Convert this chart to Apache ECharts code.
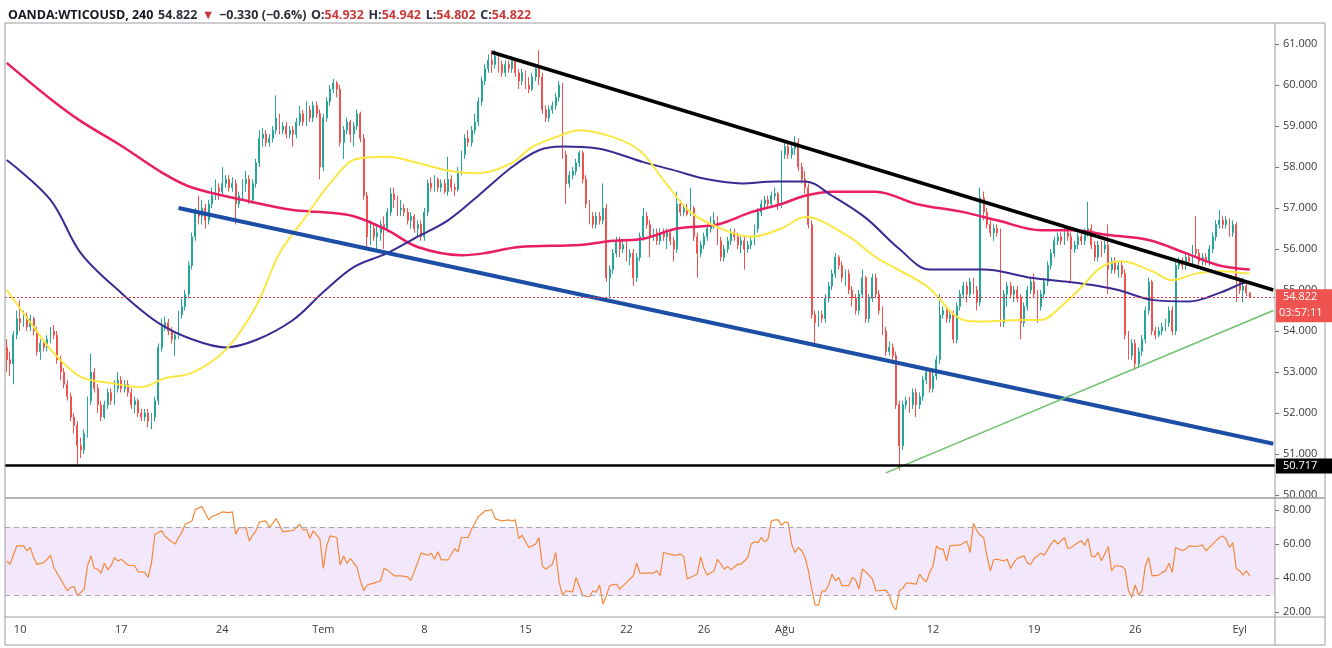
<!DOCTYPE html>
<html><head><meta charset="utf-8">
<script src="https://cdn.jsdelivr.net/npm/echarts@6/dist/echarts.min.js"></script>
<style>html,body{margin:0;padding:0;background:#fff}#c{width:1332px;height:648px}</style>
</head><body><div id="c"></div><script>
// ---------- DATA ----------
const NSLOT = 377; // bar slots incl. right margin
const xTickIdx = [4,34,64,94,124,154,184,207,231,275,305,335,366];
const xTickTxt = ['10','17','24','Tem','8','15','22','26','Ağu','12','19','26','Eyl'];
const priceTicks = [50,51,52,53,54,55,56,57,58,59,60,61];
const rsiTicks = [20,40,60,80];
const lastPrice = 54.822;
const supportLevel = 50.717;
const countdown = '03:57:11';
const trendBlack = [[144,60.8],[376,55.0]];
const trendBlue = [[51,57.0],[376,51.25]];
const trendGreen = [[261,50.54],[376,54.5]];
// candles: [open, close, low, high]
const w0 = [[53.6,53.3,53.0,53.8],[53.3,53.2,52.9,53.5],[53.2,53.9,52.7,54.0],[53.9,54.3,53.8,54.5],[54.3,54.2,54.0,54.75],[54.2,54.35,54.1,54.5],[54.35,54.1,54.0,54.45],[54.1,54.3,54.0,54.4],[54.3,54.0,53.9,54.35],[54.0,53.5,53.4,54.1],[53.5,53.7,53.3,53.8],[53.7,53.6,53.5,53.8],[53.6,53.8,53.5,53.9],[53.8,54.0,53.7,54.1],[54.0,53.9,53.8,54.15],[53.9,53.3,53.2,54.0],[53.3,53.0,52.8,53.4],[53.0,52.7,52.6,53.1],[52.7,52.4,52.3,52.8],[52.4,51.9,51.8,52.5],[51.9,51.7,51.5,52.0],[51.7,51.2,50.75,51.8],[51.2,51.1,50.9,51.4],[51.1,51.5,51.0,51.6],[51.5,52.3,51.4,52.4],[52.3,53.0,52.2,53.45],[53.0,52.6,52.5,53.1],[52.6,52.2,52.0,52.7],[52.2,51.9,51.8,52.3],[51.9,52.2,51.85,52.3]];
const w1 = [[52.2,52.5,52.1,52.6],[52.5,52.3,52.2,52.6],[52.3,52.6,52.2,52.8],[52.6,52.8,52.5,53.0],[52.8,52.6,52.5,52.9],[52.6,52.7,52.5,52.8],[52.7,52.5,52.4,52.8],[52.5,52.2,52.1,52.6],[52.2,52.3,52.0,52.4],[52.3,52.0,51.9,52.35],[52.0,51.9,51.8,52.1],[51.9,52.0,51.8,52.1],[52.0,51.8,51.65,52.1],[51.8,51.9,51.6,52.0],[51.9,52.3,51.8,52.4],[52.3,53.6,52.2,53.7],[53.6,54.1,53.5,54.3],[54.1,54.2,54.0,54.35],[54.2,54.0,53.9,54.3],[54.0,53.8,53.7,54.1],[53.8,53.9,53.4,54.0],[53.9,54.4,53.8,54.5],[54.4,54.6,54.3,54.8],[54.6,54.9,54.5,55.0],[54.9,55.6,54.8,55.7],[55.6,56.3,55.5,56.4],[56.3,56.9,56.2,57.0],[56.9,56.8,56.6,57.3],[56.8,57.0,56.6,57.2],[57.0,56.7,56.5,57.1]];
const w2 = [[56.7,57.1,56.6,57.2],[57.1,57.3,57.0,57.5],[57.3,57.5,57.2,57.7],[57.5,57.4,57.2,57.6],[57.4,57.6,57.3,58.0],[57.6,57.7,57.5,57.8],[57.7,57.5,57.4,57.8],[57.5,57.6,57.4,57.75],[57.6,57.1,56.6,57.7],[57.1,57.3,57.0,57.4],[57.3,57.6,57.2,57.7],[57.6,57.7,57.4,57.9],[57.7,57.2,57.1,57.8],[57.2,57.6,57.1,57.7],[57.6,58.1,57.5,58.2],[58.1,58.7,58.0,58.9],[58.7,58.8,58.5,58.95],[58.8,58.6,58.5,58.9],[58.6,58.7,58.5,58.8],[58.7,58.9,58.6,59.0],[58.9,59.2,58.8,59.75],[59.2,58.9,58.8,59.3],[58.9,59.0,58.8,59.1],[59.0,58.8,58.7,59.1],[58.8,58.9,58.7,59.0],[58.9,58.8,58.5,59.0],[58.8,59.1,58.7,59.2],[59.1,59.3,59.0,59.5],[59.3,59.1,59.0,59.4],[59.1,59.4,59.0,59.6]];
const w3 = [[59.4,59.2,59.1,59.5],[59.2,59.5,59.1,59.6],[59.5,59.3,59.2,59.6],[59.3,58.0,57.7,59.4],[58.0,59.2,57.9,59.3],[59.2,59.6,59.1,59.7],[59.6,59.9,59.5,60.0],[59.9,60.05,59.8,60.15],[60.05,59.9,59.7,60.1],[59.9,58.6,58.5,60.0],[58.6,58.9,58.2,59.0],[58.9,59.1,58.8,59.2],[59.1,58.8,58.6,59.15],[58.8,59.0,58.5,59.1],[59.0,59.3,58.9,59.4],[59.3,58.7,58.6,59.35],[58.7,57.3,57.2,58.8],[57.3,56.3,56.05,57.4],[56.3,56.5,56.1,56.7],[56.5,56.3,56.2,56.6],[56.3,56.4,56.0,56.6],[56.4,56.6,56.2,56.7],[56.6,56.5,56.0,56.8],[56.5,56.9,56.4,57.0],[56.9,57.35,56.8,57.5],[57.35,57.2,57.0,57.5],[57.2,56.95,56.8,57.3],[56.95,57.0,56.8,57.2],[57.0,56.9,56.8,57.1],[56.9,56.7,56.6,57.0]];
const w4 = [[56.7,56.8,56.5,56.9],[56.8,56.5,56.4,56.85],[56.5,56.6,56.3,56.7],[56.6,56.3,56.2,56.7],[56.3,56.9,56.2,57.0],[56.9,57.6,56.8,57.7],[57.6,57.5,57.4,57.75],[57.5,57.7,57.4,57.8],[57.7,57.5,57.4,57.75],[57.5,57.6,57.4,57.7],[57.6,57.4,57.35,57.7],[57.4,57.7,57.3,58.25],[57.7,57.5,57.4,57.8],[57.5,57.45,57.3,57.6],[57.45,57.9,57.4,58.0],[57.9,58.3,57.8,58.4],[58.3,58.7,58.2,58.8],[58.7,58.6,58.5,58.9],[58.6,58.9,58.5,59.0],[58.9,59.1,58.8,59.3],[59.1,59.6,59.0,59.7],[59.6,60.1,59.5,60.2],[60.1,60.4,60.0,60.5],[60.4,60.6,60.3,60.75],[60.6,60.5,60.3,60.85],[60.5,60.7,60.4,60.85],[60.7,60.5,60.3,60.8],[60.5,60.3,60.2,60.6],[60.3,60.5,60.2,60.6],[60.5,60.4,60.3,60.6]];
const w5 = [[60.4,60.6,60.3,60.7],[60.6,60.3,60.2,60.65],[60.3,60.1,59.9,60.4],[60.1,60.3,60.0,60.4],[60.3,60.0,59.9,60.35],[60.0,59.9,59.8,60.2],[59.9,60.2,59.85,60.3],[60.2,60.4,60.1,60.5],[60.4,60.2,60.0,60.85],[60.2,59.4,59.3,60.3],[59.4,59.2,59.1,59.5],[59.2,59.4,59.1,59.5],[59.4,59.5,59.3,59.6],[59.5,59.7,59.4,59.8],[59.7,60.0,59.6,60.1],[60.0,58.3,58.2,60.05],[58.3,57.6,57.1,58.4],[57.6,57.8,57.5,57.9],[57.8,57.9,57.7,58.0],[57.9,58.1,57.8,58.2],[58.1,58.35,58.0,58.4],[58.35,57.7,57.6,58.4],[57.7,57.1,57.0,57.8],[57.1,56.8,56.6,57.2],[56.8,56.6,56.5,56.9],[56.6,56.8,56.5,56.9],[56.8,56.7,56.6,56.9],[56.7,57.0,56.6,57.6],[57.0,55.3,55.2,57.1],[55.3,55.5,54.83,55.6]];
const w6 = [[55.5,55.9,55.4,56.0],[55.9,56.2,55.8,56.3],[56.2,56.0,55.8,56.3],[56.0,56.1,55.9,56.2],[56.1,55.8,55.7,56.2],[55.8,55.9,55.6,56.0],[55.9,55.3,55.1,56.0],[55.3,55.8,55.2,55.9],[55.8,56.3,55.7,56.4],[56.3,56.8,56.2,57.0],[56.8,56.6,56.5,56.9],[56.6,56.3,55.8,56.7],[56.3,56.4,56.2,56.5],[56.4,56.2,56.1,56.5],[56.2,56.4,56.1,56.5],[56.4,56.3,56.2,56.5],[56.3,56.4,56.0,56.5],[56.4,56.2,56.1,56.5],[56.2,56.0,55.7,56.3],[56.0,57.1,55.9,57.4],[57.1,56.9,56.8,57.2],[56.9,57.0,56.8,57.1],[57.0,56.85,56.8,57.1],[56.85,57.0,56.8,57.5],[57.0,56.3,56.2,57.05],[56.3,55.9,55.3,56.4],[55.9,56.1,55.8,56.2],[56.1,56.3,56.0,56.4],[56.3,56.5,56.2,56.6],[56.5,56.6,56.4,56.8]];
const w7 = [[56.6,56.7,56.5,56.9],[56.7,56.2,56.1,56.8],[56.2,55.8,55.7,56.3],[55.8,56.0,55.7,56.1],[56.0,56.2,55.9,56.3],[56.2,56.4,56.1,56.5],[56.4,56.3,56.2,56.5],[56.3,56.1,56.0,56.4],[56.1,56.2,55.9,56.3],[56.2,56.0,55.5,56.3],[56.0,56.1,55.9,56.2],[56.1,56.2,56.0,56.3],[56.2,56.5,56.1,56.6],[56.5,56.9,56.4,57.0],[56.9,57.1,56.8,57.2],[57.1,57.2,57.0,57.3],[57.2,57.1,57.0,57.3],[57.1,57.3,57.0,57.4],[57.3,57.35,57.2,57.5],[57.35,57.1,56.95,57.4],[57.1,58.3,57.0,58.4],[58.3,58.5,58.2,58.6],[58.5,58.3,58.2,58.6],[58.3,58.45,58.2,58.55],[58.45,58.6,58.3,58.75],[58.6,58.0,57.9,58.7],[58.0,57.7,57.6,58.1],[57.7,57.5,57.35,57.9],[57.5,56.6,56.5,57.6],[56.6,54.4,54.3,56.7]];
const w8 = [[54.4,54.2,53.7,54.5],[54.2,54.4,54.1,54.5],[54.4,54.3,54.2,54.5],[54.3,54.8,54.2,54.9],[54.8,55.1,54.7,55.2],[55.1,55.4,55.0,55.5],[55.4,55.8,55.3,55.9],[55.8,55.6,55.5,55.85],[55.6,55.3,55.2,55.7],[55.3,55.4,55.1,55.5],[55.4,55.0,54.9,55.5],[55.0,54.8,54.6,55.1],[54.8,54.5,54.4,54.9],[54.5,54.9,54.4,55.0],[54.9,55.3,54.8,55.5],[55.3,54.3,54.2,55.35],[54.3,54.8,54.2,54.9],[54.8,55.3,54.7,55.4],[55.3,54.9,54.8,55.4],[54.9,54.5,54.4,55.0],[54.5,54.0,53.9,54.6],[54.0,53.5,53.4,54.1],[53.5,53.6,53.4,53.75],[53.6,53.4,53.3,53.7],[53.4,52.2,52.1,53.5],[52.2,51.2,50.6,52.3],[51.2,52.2,51.1,52.3],[52.2,52.3,52.1,52.4],[52.3,52.2,52.0,52.4],[52.2,52.5,52.1,52.6]];
const w9 = [[52.5,52.2,51.9,52.6],[52.2,52.4,52.1,52.5],[52.4,52.8,52.3,52.9],[52.8,53.0,52.7,53.1],[53.0,52.6,52.5,53.1],[52.6,52.9,52.5,53.0],[52.9,53.3,52.8,53.4],[53.3,54.4,53.2,54.9],[54.4,54.5,54.3,54.6],[54.5,54.3,54.2,54.6],[54.3,54.4,54.2,54.5],[54.4,53.8,53.7,54.5],[53.8,54.6,53.7,54.7],[54.6,54.9,54.5,55.0],[54.9,55.1,54.8,55.2],[55.1,54.9,54.7,55.2],[54.9,55.2,54.8,55.3],[55.2,55.0,54.9,55.3],[55.0,54.7,54.5,55.1],[54.7,57.25,54.6,57.5],[57.25,56.9,56.7,57.4],[56.9,56.6,56.5,57.0],[56.6,56.4,56.3,56.7],[56.4,56.5,56.2,56.6],[56.5,56.4,56.3,56.6],[56.4,54.2,54.1,56.5],[54.2,54.9,54.1,55.0],[54.9,55.1,54.6,55.2],[55.1,54.9,54.8,55.2],[54.9,55.0,54.7,55.1]];
const w10 = [[55.0,54.8,54.7,55.1],[54.8,54.2,53.8,54.9],[54.2,54.6,54.1,54.7],[54.6,55.0,54.5,55.1],[55.0,55.2,54.9,55.3],[55.2,54.9,54.8,55.4],[54.9,54.6,54.2,55.0],[54.6,54.9,54.5,55.0],[54.9,55.2,54.8,55.3],[55.2,55.6,55.1,55.7],[55.6,55.9,55.5,56.0],[55.9,56.2,55.8,56.3],[56.2,56.3,56.1,56.4],[56.3,56.2,56.1,56.4],[56.2,56.4,56.1,56.55],[56.4,56.3,56.2,56.5],[56.3,56.0,55.2,56.4],[56.0,56.1,55.9,56.2],[56.1,56.3,56.0,56.4],[56.3,56.2,56.1,56.4],[56.2,56.4,56.1,56.5],[56.4,56.5,56.3,57.15],[56.5,56.1,56.0,56.6],[56.1,55.8,55.7,56.2],[55.8,56.1,55.7,56.2],[56.1,56.0,55.8,56.2],[56.0,56.1,55.9,56.2],[56.1,55.5,54.9,56.6],[55.5,55.7,55.4,55.8],[55.7,55.5,55.4,55.8]];
const w11 = [[55.5,55.6,55.3,55.7],[55.6,55.4,55.3,55.7],[55.4,53.9,53.8,55.5],[53.9,53.4,53.3,54.0],[53.4,53.7,53.3,53.8],[53.7,53.2,53.05,53.8],[53.2,53.5,53.1,53.6],[53.5,53.8,53.4,53.9],[53.8,54.5,53.7,54.6],[54.5,55.2,54.4,55.3],[55.2,54.0,53.9,55.25],[54.0,53.9,53.8,54.1],[53.9,54.0,53.85,54.1],[54.0,54.1,53.9,54.2],[54.1,54.2,54.0,54.3],[54.2,54.5,54.1,54.6],[54.5,54.0,53.9,54.6],[54.0,55.6,53.9,55.7],[55.6,55.7,55.5,55.8],[55.7,55.6,55.5,55.8],[55.6,55.8,55.5,55.9],[55.8,55.7,55.6,55.9],[55.7,56.0,55.6,56.1],[56.0,55.9,55.8,56.8],[55.9,55.7,55.6,56.0],[55.7,55.8,55.6,55.9],[55.8,55.7,55.6,55.9],[55.7,56.0,55.6,56.1],[56.0,56.3,55.9,56.4],[56.3,56.6,56.2,56.7]];
const w12 = [[56.6,56.7,56.5,56.95],[56.7,56.6,56.5,56.8],[56.6,56.7,56.5,56.8],[56.7,56.4,56.3,56.75],[56.4,56.6,56.3,56.7],[56.6,55.25,54.7,56.65],[55.25,55.0,54.9,55.3],[55.0,55.1,54.7,55.3],[55.1,54.932,54.85,55.2],[54.932,54.822,54.802,54.942]];
// moving averages: [barIndex, value]
const maRed = [[0,60.54],[13,59.66],[22,59.12],[34,58.52],[47,57.82],[55,57.5],[70,57.2],[85,56.95],[94,56.9],[103,56.8],[113,56.46],[122,56.05],[135,55.85],[142,55.9],[152,56.05],[170,56.1],[180,56.2],[189,56.25],[199,56.5],[211,56.6],[221,56.9],[230,57.1],[237,57.3],[245,57.4],[258,57.4],[270,57.1],[284,56.9],[294,56.7],[307,56.46],[317,56.46],[327,56.34],[339,56.22],[350,55.9],[360,55.6],[369,55.5]];
const maPurple = [[0,58.17],[13,57.2],[22,55.9],[34,54.93],[45,54.2],[55,53.8],[65,53.6],[74,53.78],[85,54.27],[94,54.95],[103,55.56],[113,55.9],[122,56.3],[131,56.7],[140,57.3],[150,58.0],[158,58.41],[165,58.5],[175,58.46],[189,58.12],[199,57.9],[208,57.7],[218,57.6],[228,57.65],[237,57.65],[245,57.3],[255,56.76],[265,56.0],[274,55.5],[283,55.5],[290,55.5],[304,55.3],[315,55.2],[324,55.1],[330,55.0],[340,54.76],[351,54.72],[360,54.93],[367,55.17],[369,55.2]];
const maYellow = [[0,55.0],[8,54.1],[14,53.46],[22,52.88],[31,52.73],[40,52.63],[47,52.85],[55,52.98],[65,53.54],[74,54.6],[81,55.9],[88,56.7],[96,57.6],[104,58.2],[113,58.25],[122,58.1],[132,57.9],[140,57.85],[150,58.1],[156,58.49],[163,58.73],[170,58.9],[180,58.73],[188,58.4],[195,57.68],[203,56.9],[212,56.5],[221,56.3],[230,56.5],[237,56.78],[250,56.3],[258,55.8],[273,55.1],[284,54.27],[290,54.23],[301,54.27],[307,54.27],[313,54.6],[319,55.07],[325,55.56],[331,55.7],[340,55.46],[346,55.24],[353,55.4],[360,55.46],[369,55.4]];
// RSI: [barIndex, value]
const rsi = [[0,50.1],[1,48.1],[3,58.9],[5,58.9],[6,56],[7,58],[8,52],[9,48],[11,49],[12,51],[13,53.4],[14,46.2],[16,39.4],[18,32.5],[19,34.5],[20,35],[21,29.6],[23,33.5],[24,47.2],[25,53],[26,45.6],[27,45.2],[28,42.9],[29,48.7],[30,44.8],[31,47.2],[32,52],[33,50],[34,51],[36,47.6],[38,47.2],[39,43.7],[41,43.3],[42,40.3],[43,49.1],[44,65.7],[46,67.7],[47,64.7],[48,62.8],[50,59.9],[51,63.8],[52,66.7],[53,71.6],[55,73.5],[56,80.3],[58,81.9],[60,74.1],[61,76.4],[62,76.8],[64,78.8],[66,78.4],[67,78.8],[68,65.7],[69,69.6],[71,69.6],[72,61.8],[73,65.1],[74,67.7],[75,72.9],[77,73.5],[78,69.6],[80,74.9],[82,67.1],[84,67.7],[85,67.9],[87,71.6],[88,68.2],[89,68.6],[90,63.2],[91,67.7],[93,62.8],[94,45.6],[95,58.9],[96,64.7],[98,63.8],[99,47.6],[100,53],[101,48.5],[102,51.5],[104,46.2],[105,38.4],[106,32.5],[107,35.9],[109,37],[111,38.4],[112,45.6],[113,44.8],[115,41.3],[117,41.3],[119,40.7],[120,38.6],[122,49.1],[123,54.6],[125,53.4],[126,54.6],[127,51],[128,55.4],[129,50.7],[131,50.7],[133,57.3],[134,55.4],[135,63.8],[137,63.8],[138,68.6],[140,76],[142,79.4],[144,80],[145,74.9],[147,73.5],[149,74.1],[150,73.5],[151,74.1],[152,63.2],[153,65.1],[155,57.9],[157,59.9],[158,63.8],[159,47.2],[160,45.2],[162,48.1],[163,55],[164,37.4],[165,30],[166,32.5],[168,31.9],[169,40.3],[170,35],[171,29.6],[173,29],[174,32.5],[175,31.6],[176,35.9],[177,24.7],[178,29.6],[179,35.5],[181,36.4],[182,33.5],[183,35.5],[184,37.4],[186,41.3],[187,48.7],[188,42.9],[190,42.9],[192,42.9],[193,44.2],[194,41.3],[195,55],[198,53.4],[199,53.4],[200,54],[201,52.6],[202,39.4],[203,40.3],[205,42.3],[206,52.4],[207,45.6],[208,41.7],[210,44.2],[211,51],[213,45.2],[214,46.8],[215,44.8],[217,48.1],[218,48.1],[220,52],[221,59.9],[222,61.2],[223,60.8],[224,63.8],[225,61.2],[226,62.8],[227,73.5],[228,74.1],[229,74.1],[230,71],[231,72.9],[232,72.5],[233,59.9],[234,55],[235,57.9],[236,56],[237,52],[238,44.2],[239,33.5],[240,24.1],[241,24.1],[242,32.5],[243,32.3],[244,35.9],[245,42.3],[246,38.4],[247,40.3],[248,35.5],[250,35.5],[251,40.3],[252,39],[253,33.5],[254,45.2],[255,43.7],[257,39.4],[258,32.5],[259,32.5],[261,32.9],[262,30],[263,23.8],[264,21.2],[265,32.5],[266,33.9],[267,37],[268,37],[270,36.4],[271,42.3],[272,39.4],[273,37.8],[274,43.3],[275,47.2],[276,58.9],[277,57],[278,57],[279,50.1],[280,58.9],[282,59.3],[283,59.3],[285,61.8],[286,55],[287,72.1],[288,67.7],[289,65.1],[290,63.8],[291,53],[292,44.2],[293,50.7],[294,51],[296,50.1],[297,51],[298,45.6],[299,49.1],[300,51.5],[302,53],[303,48.7],[304,48.1],[305,51.5],[307,54.6],[308,53.4],[310,59.9],[311,62.4],[312,59.9],[314,63.8],[315,57.3],[316,57.9],[318,60.8],[319,61.8],[320,59.3],[321,63.2],[322,53],[323,52.4],[324,55],[325,50.1],[327,58.5],[328,44.2],[329,47.2],[331,46.8],[332,45.2],[333,32.5],[334,28.6],[335,35.9],[336,30],[337,32.5],[338,47.2],[339,52],[340,41.3],[342,41.7],[343,43.3],[344,44.2],[345,48.7],[346,43.3],[347,57.9],[349,56],[350,57],[351,58.9],[353,58.5],[355,59.3],[356,56],[358,59.9],[360,63.8],[361,64.7],[362,62.8],[363,57.9],[364,60.8],[365,45.6],[366,44.2],[367,41.7],[368,44.2],[369,41.3]];

// ---------- BUILD ----------
const candles = [].concat(w0,w1,w2,w3,w4,w5,w6,w7,w8,w9,w10,w11,w12);
const cats = [];
for (let i = 0; i < NSLOT; i++) cats.push(String(i));
const tickMap = {};
xTickIdx.forEach((k, j) => { tickMap[k] = xTickTxt[j]; });

const FONT = "'Open Sans', 'Noto Sans', sans-serif";
const UP = '#26a69a', DOWN = '#ef5350';
const GL = 5, GR = 1275, PT = 22, SEP = 498, XB = 617;

const chart = echarts.init(document.getElementById('c'), null, {renderer: 'canvas'});
const option = {
  animation: false,
  backgroundColor: '#ffffff',
  textStyle: {fontFamily: FONT},
  title: {
    left: 3, top: 1,
    text: '{b|OANDA:WTICOUSD, 240} {n|54.822} {r|▼} {n|−0.330 (−0.6%)} {n|O:}{r|54.932} {n|H:}{r|54.942} {n|L:}{r|54.802} {n|C:}{r|54.822}',
    textStyle: {
      fontFamily: FONT,
      rich: {
        b: {fontWeight: 'bold', fontSize: 12.5, color: '#131722', fontFamily: FONT, lineHeight: 16},
        n: {fontSize: 12.5, color: '#2a2e39', fontFamily: FONT, lineHeight: 16},
        r: {fontSize: 12.5, color: '#c93b3b', fontFamily: FONT, lineHeight: 16}
      }
    }
  },
  grid: [
    {left: GL, top: PT, width: GR - GL, height: SEP - PT},
    {left: GL, top: SEP, width: GR - GL, height: XB - SEP}
  ],
  xAxis: [
    {type: 'category', gridIndex: 0, data: cats, boundaryGap: true,
     axisLine: {show: false}, axisTick: {show: false}, axisLabel: {show: false}, splitLine: {show: false}},
    {type: 'category', gridIndex: 1, data: cats, boundaryGap: true,
     axisLine: {show: false}, axisTick: {show: false}, splitLine: {show: false},
     axisLabel: {interval: (i) => tickMap[i] !== undefined, formatter: (v, i) => tickMap[i] || '',
                 color: '#3a3a3a', fontSize: 11, margin: 7, fontFamily: FONT}}
  ],
  yAxis: [
    {type: 'value', gridIndex: 0, position: 'right', min: 49.927, max: 61.538, scale: true,
     axisLine: {show: false}, splitLine: {show: false},
     axisTick: {show: true, customValues: priceTicks, length: 4, lineStyle: {color: '#777'}},
     axisLabel: {customValues: priceTicks, formatter: (v) => v.toFixed(3), color: '#3a3a3a', fontSize: 11, margin: 8, fontFamily: FONT}},
    {type: 'value', gridIndex: 1, position: 'right', min: 17.09, max: 86.99,
     axisLine: {show: false}, splitLine: {show: false},
     axisTick: {show: true, customValues: rsiTicks, length: 4, lineStyle: {color: '#777'}},
     axisLabel: {customValues: rsiTicks, formatter: (v) => v.toFixed(2), color: '#3a3a3a', fontSize: 11, margin: 8, fontFamily: FONT}}
  ],
  series: [
    {type: 'candlestick', xAxisIndex: 0, yAxisIndex: 0, data: candles, barWidth: 1.4,
     itemStyle: {color: UP, color0: DOWN, borderColor: UP, borderColor0: DOWN, borderWidth: 1},
     markLine: {silent: true, symbol: ['none', 'none'], label: {show: false},
       data: [
         {yAxis: lastPrice, lineStyle: {color: '#f23645', type: [2, 2], width: 1, opacity: 1}},
         {yAxis: supportLevel, lineStyle: {color: '#000000', type: 'solid', width: 2.5}}
       ]}},
    {type: 'line', name: 'MA-red', xAxisIndex: 0, yAxisIndex: 0, data: maRed, showSymbol: false, smooth: 0.35,
     lineStyle: {color: '#e91e63', width: 2.5}},
    {type: 'line', name: 'MA-purple', xAxisIndex: 0, yAxisIndex: 0, data: maPurple, showSymbol: false, smooth: 0.35,
     lineStyle: {color: '#3b2a92', width: 2}},
    {type: 'line', name: 'MA-yellow', xAxisIndex: 0, yAxisIndex: 0, data: maYellow, showSymbol: false, smooth: 0.35,
     lineStyle: {color: '#fbe743', width: 2}},
    {type: 'line', xAxisIndex: 0, yAxisIndex: 0, data: trendBlack, showSymbol: false,
     lineStyle: {color: '#000000', width: 3.5}},
    {type: 'line', xAxisIndex: 0, yAxisIndex: 0, data: trendBlue, showSymbol: false,
     lineStyle: {color: '#1d4ea6', width: 4}},
    {type: 'line', xAxisIndex: 0, yAxisIndex: 0, data: trendGreen, showSymbol: false,
     lineStyle: {color: '#6fc06d', width: 1.6}},
    {type: 'line', name: 'RSI', xAxisIndex: 1, yAxisIndex: 1, data: rsi, showSymbol: false,
     lineStyle: {color: '#f28a3c', width: 1.2},
     markArea: {silent: true, itemStyle: {color: '#f3e7fb'}, data: [[{yAxis: 30}, {yAxis: 70}]]},
     markLine: {silent: true, symbol: ['none', 'none'], label: {show: false},
       lineStyle: {color: '#aaa4b4', type: [5, 4], width: 1},
       data: [{yAxis: 70}, {yAxis: 30}]}}
  ]
};
chart.setOption(option);

const yP = chart.convertToPixel({yAxisIndex: 0}, lastPrice);
const yS = chart.convertToPixel({yAxisIndex: 0}, supportLevel);
const BC = '#9c9c9c';
chart.setOption({
  graphic: [
    {type: 'rect', z: 50, shape: {x: GL, y: 23, width: 1325 - GL, height: 645 - 23}, style: {fill: 'none', stroke: BC, lineWidth: 1}},
    {type: 'line', z: 50, shape: {x1: GL, y1: SEP, x2: 1325, y2: SEP}, style: {stroke: BC, lineWidth: 1.5}},
    {type: 'line', z: 50, shape: {x1: GL, y1: XB, x2: 1325, y2: XB}, style: {stroke: BC, lineWidth: 1}},
    {type: 'line', z: 50, shape: {x1: GR, y1: 23, x2: GR, y2: 645}, style: {stroke: BC, lineWidth: 1}},
    {type: 'rect', z: 60, shape: {x: GR + 1, y: yP - 8, width: 56, height: 33}, style: {fill: '#ef5350'}},
    {type: 'text', z: 61, x: GR + 8, y: yP, style: {text: lastPrice.toFixed(3), fill: '#fff', fontSize: 11, fontFamily: FONT, verticalAlign: 'middle'}},
    {type: 'text', z: 61, x: GR + 4, y: yP + 16, style: {text: countdown, fill: '#fff', fontSize: 11, fontFamily: FONT, verticalAlign: 'middle'}},
    {type: 'rect', z: 60, shape: {x: GR + 1, y: yS - 7, width: 56, height: 15}, style: {fill: '#000'}},
    {type: 'text', z: 61, x: GR + 8, y: yS + 0.5, style: {text: supportLevel.toFixed(3), fill: '#fff', fontSize: 11, fontFamily: FONT, verticalAlign: 'middle'}}
  ]
});
</script></body></html>
